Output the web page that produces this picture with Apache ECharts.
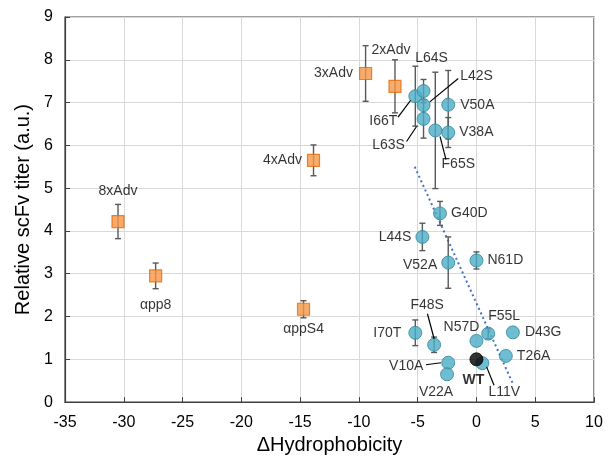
<!DOCTYPE html>
<html>
<head>
<meta charset="utf-8">
<script src="https://cdn.jsdelivr.net/npm/echarts@6/dist/echarts.min.js"></script>
<style>html,body{margin:0;padding:0;background:#fff}#c{width:614px;height:460px}</style>
</head>
<body>
<div id="c"></div>
<script>
// ---- data ----
var blueNames = ['I66T','L64S','L42S','L63S','F65S','V50A','V38A','G40D','L44S','V52A','N61D','I70T','F48S','N57D','F55L','D43G','T26A','L11V','V10A','V22A'];
var blueX = [-5.2,-4.5,-4.5,-4.5,-3.5,-2.4,-2.4,-3.1,-4.6,-2.4,0,-5.2,-3.6,0,1.0,3.1,2.5,0.5,-2.4,-2.5];
var blueY = [7.15,7.27,6.94,6.62,6.35,6.95,6.3,4.41,3.86,3.26,3.31,1.62,1.34,1.43,1.6,1.63,1.08,0.91,0.92,0.65];
var blueErr = [0.7,0.27,0,0.45,1.36,0.8,0.35,0.28,0.32,0.6,0.2,0.3,0.18,0,0.12,0,0,0,0,0];

var orangeNames = ['3xAdv','2xAdv','4xAdv','8xAdv','\u03b1pp8','\u03b1ppS4'];
var orangeX = [-9.43,-6.93,-13.86,-30.49,-27.29,-14.71];
var orangeY = [7.68,7.38,5.65,4.22,2.95,2.17];
var orangeErr = [0.65,0.62,0.36,0.4,0.3,0.2];

var wtName = ['WT'];
var wtX = [0];
var wtY = [1];

var trendX = [-5.25, 3.15];
var trendY = [5.5, 0.4];

var xTicks = [-35,-30,-25,-20,-15,-10,-5,0,5,10];
var yTicks = [0,1,2,3,4,5,6,7,8,9];

// ---- label placement (styling) ----
var labelPlace = {
  '3xAdv': {pos:'left', d:6},
  '2xAdv': {off:[-4,-36]},
  '4xAdv': {pos:'left', d:5},
  '8xAdv': {off:[0,-30]},
  '\u03b1pp8': {off:[0,29]},
  '\u03b1ppS4': {off:[0,20]},
  'I66T': {off:[-32,25]},
  'L64S': {off:[8,-33]},
  'L42S': {off:[53,-29]},
  'L63S': {off:[-35,26]},
  'F65S': {off:[23,34]},
  'V50A': {pos:'right', d:5},
  'V38A': {pos:'right', d:4},
  'G40D': {pos:'right', d:4},
  'L44S': {pos:'left', d:4},
  'V52A': {pos:'left', d:4, dy:3},
  'N61D': {pos:'right', d:4},
  'I70T': {pos:'left', d:7},
  'F48S': {off:[-7,-40]},
  'N57D': {off:[-15,-14]},
  'F55L': {off:[16,-17]},
  'D43G': {pos:'right', d:5},
  'T26A': {pos:'right', d:4},
  'L11V': {off:[22,29]},
  'V10A': {off:[-42,3]},
  'V22A': {off:[-11,18]},
  'WT': {off:[-3,21]}
};
var leaders = {
  'I66T': [-4.7,4.3,-17.3,21],
  'L42S': [6.3,-3.3,34.7,-26.7],
  'L63S': [-7,7.7,-17,22.7],
  'F65S': [4.7,6,10.7,29.3],
  'F48S': [0,-6,-6.7,-31],
  'L11V': [4.3,3.7,11.7,22],
  'V10A': [-7.3,0,-22.3,2]
};

var FONT = "'Liberation Sans', Arial, sans-serif";

function mkLabel(name, bold) {
  var p = labelPlace[name] || {pos:'right', d:5};
  var l = {show:true, formatter: name, color:'#000', fontSize:14, fontFamily:FONT, fontWeight: bold ? 'bold' : 'normal'};
  if (p.off) { l.position = 'inside'; l.offset = p.off; l.align = 'center'; l.verticalAlign = 'middle'; }
  else { l.position = p.pos; l.distance = p.d; if (p.dy) l.offset = [0, p.dy]; }
  return l;
}

function pts(names, xs, ys, bold) {
  return names.map(function(n, i){ return {name:n, value:[xs[i], ys[i]], label: mkLabel(n, bold)}; });
}
function errData(xs, ys, es) {
  var out = [];
  for (var i = 0; i < xs.length; i++) if (es[i] > 0) out.push([xs[i], ys[i] - es[i], ys[i] + es[i]]);
  return out;
}
var allErr = errData(blueX, blueY, blueErr).concat(errData(orangeX, orangeY, orangeErr));

function renderErr(params, api) {
  var x = api.value(0);
  var lo = api.coord([x, api.value(1)]);
  var hi = api.coord([x, api.value(2)]);
  var cw = 3;
  var st = {stroke:'#595959', lineWidth:1.4};
  return {type:'group', children:[
    {type:'line', shape:{x1:lo[0], y1:lo[1], x2:hi[0], y2:hi[1]}, style:st},
    {type:'line', shape:{x1:lo[0]-cw, y1:lo[1], x2:lo[0]+cw, y2:lo[1]}, style:st},
    {type:'line', shape:{x1:hi[0]-cw, y1:hi[1], x2:hi[0]+cw, y2:hi[1]}, style:st}
  ]};
}

var chart = echarts.init(document.getElementById('c'), null, {renderer:'canvas'});
var option = {
  animation:false,
  grid:{left:65, right:20, top:17, bottom:52, show:true, borderColor:'#404040', borderWidth:1.2, backgroundColor:'transparent'},
  xAxis:{type:'value', min:xTicks[0], max:xTicks[xTicks.length-1], interval:5,
    name:'\u0394Hydrophobicity', nameLocation:'middle', nameGap:28,
    nameTextStyle:{fontSize:20, fontFamily:FONT, color:'#000'},
    axisLine:{show:true, onZero:false, lineStyle:{color:'#404040', width:1.2}},
    axisTick:{show:true, inside:true, length:5, lineStyle:{color:'#404040'}},
    axisLabel:{fontSize:16, fontFamily:FONT, color:'#000', margin:12},
    splitLine:{show:true, lineStyle:{color:'#d9d9d9', width:1}}},
  yAxis:{type:'value', min:yTicks[0], max:yTicks[yTicks.length-1], interval:1,
    name:'Relative scFv titer (a.u.)', nameLocation:'middle', nameGap:30,
    nameTextStyle:{fontSize:20, fontFamily:FONT, color:'#000'},
    axisLine:{show:true, onZero:false, lineStyle:{color:'#404040', width:1.2}},
    axisTick:{show:true, inside:true, length:5, lineStyle:{color:'#404040'}},
    axisLabel:{fontSize:16, fontFamily:FONT, color:'#000', margin:12},
    splitLine:{show:true, lineStyle:{color:'#d9d9d9', width:1}}},
  series:[
    {type:'line', data: trendX.map(function(x,i){return [x, trendY[i]];}), symbol:'none', silent:true,
      lineStyle:{color:'#4472C4', width:2, type:[2,3]}, z:1},
    {type:'custom', data: allErr, renderItem: renderErr, silent:true, z:2},
    {type:'scatter', data: pts(orangeNames, orangeX, orangeY), symbol:'rect', symbolSize:12,
      itemStyle:{color:'#F79646', borderColor:'#E46C0A', borderWidth:1.2}, z:3},
    {type:'scatter', data: pts(blueNames, blueX, blueY), symbol:'circle', symbolSize:13,
      itemStyle:{color:'#4BACC6', borderColor:'#31859C', borderWidth:1}, z:3},
    {type:'scatter', data: pts(wtName, wtX, wtY, true), symbol:'circle', symbolSize:13,
      itemStyle:{color:'#000', borderColor:'#000', borderWidth:1}, z:4}
  ]
};
chart.setOption(option);

// leader lines positioned through the chart's own coordinate conversion
var graphics = [];
blueNames.forEach(function(n, i){
  var L = leaders[n]; if (!L) return;
  var p = chart.convertToPixel({gridIndex:0}, [blueX[i], blueY[i]]);
  graphics.push({type:'line', shape:{x1:p[0]+L[0], y1:p[1]+L[1], x2:p[0]+L[2], y2:p[1]+L[3]},
    style:{stroke:'#000', lineWidth:1.2}, z:10, silent:true});
});
chart.setOption({graphic: graphics});
</script>
</body>
</html>
